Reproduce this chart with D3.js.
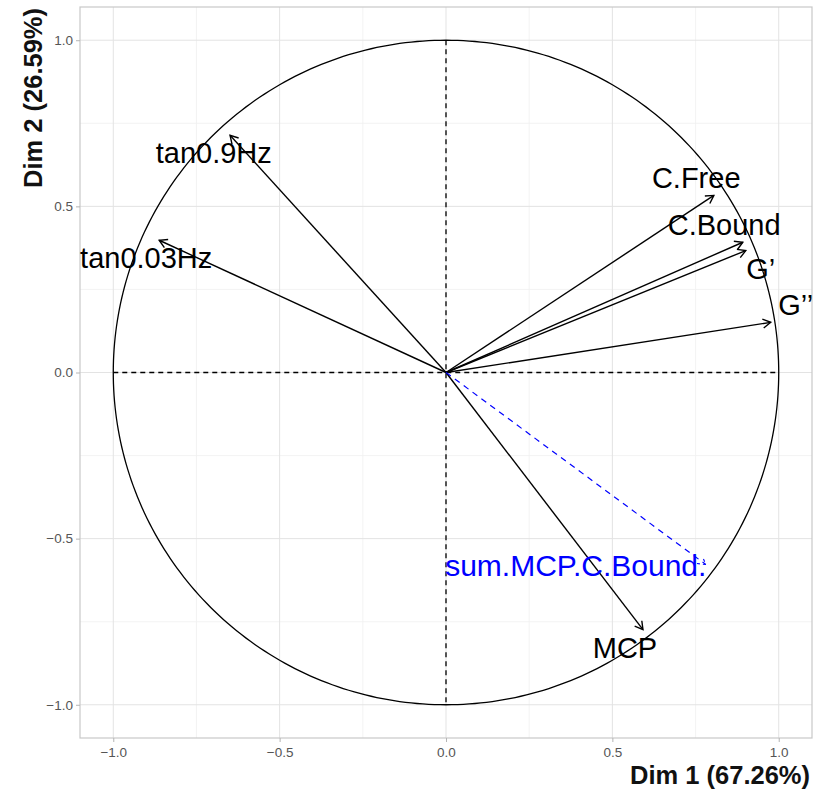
<!DOCTYPE html>
<html>
<head>
<meta charset="utf-8">
<script src="https://cdn.jsdelivr.net/npm/d3@7"></script>
<style>
  html, body { margin: 0; padding: 0; background: #ffffff; }
  svg { display: block; font-family: "Liberation Sans", Arial, sans-serif; }
</style>
</head>
<body>
<svg id="chart" width="827" height="793"></svg>
<script>
// ---- data ----
const variables = ["tan0.9Hz", "tan0.03Hz", "C.Free", "C.Bound", "G\u2019", "G\u2019\u2019", "MCP"];
const dim1 = [-0.649, -0.862, 0.805, 0.892, 0.901, 0.976, 0.592];
const dim2 = [0.714, 0.398, 0.533, 0.392, 0.367, 0.151, -0.774];
const labelDim1 = [-0.698, -0.901, 0.752, 0.836, 0.946, 1.051, 0.538];
const labelDim2 = [0.660, 0.346, 0.587, 0.443, 0.313, 0.205, -0.828];

const supVariables = ["sum.MCP.C.Bound."];
const supDim1 = [0.781];
const supDim2 = [-0.578];
const supLabelDim1 = [0.390];
const supLabelDim2 = [-0.581];

const tickValues = [-1.0, -0.5, 0.0, 0.5, 1.0];
const minorValues = [-0.75, -0.25, 0.25, 0.75];
const xTitle = "Dim 1 (67.26%)";
const yTitle = "Dim 2 (26.59%)";

// ---- layout ----
const svg = d3.select("#chart");
const panel = { left: 80, right: 812, top: 7, bottom: 738 };
const x = d3.scaleLinear().domain([-1.1, 1.1]).range([panel.left, panel.right]);
const y = d3.scaleLinear().domain([-1.1, 1.1]).range([panel.bottom, panel.top]);

// grid
const grid = svg.append("g");
minorValues.forEach(v => {
  grid.append("line").attr("x1", x(v)).attr("x2", x(v)).attr("y1", panel.top).attr("y2", panel.bottom)
    .attr("stroke", "#f0f0f0").attr("stroke-width", 0.8);
  grid.append("line").attr("y1", y(v)).attr("y2", y(v)).attr("x1", panel.left).attr("x2", panel.right)
    .attr("stroke", "#f0f0f0").attr("stroke-width", 0.8);
});
tickValues.forEach(v => {
  grid.append("line").attr("x1", x(v)).attr("x2", x(v)).attr("y1", panel.top).attr("y2", panel.bottom)
    .attr("stroke", "#e3e3e3").attr("stroke-width", 1);
  grid.append("line").attr("y1", y(v)).attr("y2", y(v)).attr("x1", panel.left).attr("x2", panel.right)
    .attr("stroke", "#e3e3e3").attr("stroke-width", 1);
});

// panel border
svg.append("rect").attr("x", panel.left).attr("y", panel.top)
  .attr("width", panel.right - panel.left).attr("height", panel.bottom - panel.top)
  .attr("fill", "none").attr("stroke", "#c8c8c8").attr("stroke-width", 1.2);

// axes
const xAxis = d3.axisBottom(x).tickValues(tickValues).tickFormat(d3.format(".1f")).tickSize(4).tickPadding(3);
const yAxis = d3.axisLeft(y).tickValues(tickValues).tickFormat(d3.format(".1f")).tickSize(4).tickPadding(3);
const gx = svg.append("g").attr("transform", `translate(0,${panel.bottom})`).call(xAxis);
const gy = svg.append("g").attr("transform", `translate(${panel.left},0)`).call(yAxis);
[gx, gy].forEach(g => {
  g.select(".domain").remove();
  g.selectAll(".tick line").attr("stroke", "#b5b5b5").attr("stroke-width", 1);
  g.selectAll(".tick text").attr("fill", "#555555").style("font-size", "13.5px")
    .style("font-family", "'Liberation Sans', Arial, sans-serif");
});
gx.selectAll(".tick text").attr("dy", "0.9em");

// axis titles
svg.append("text").attr("x", panel.right - 2).attr("y", 784)
  .attr("text-anchor", "end").style("font-size", "25.5px").style("font-weight", "bold")
  .attr("fill", "#111").text(xTitle);
svg.append("text").attr("transform", `translate(42,${panel.top + 1}) rotate(-90)`)
  .attr("text-anchor", "end").style("font-size", "25.5px").style("font-weight", "bold")
  .attr("fill", "#111").text(yTitle);

// dashed reference lines
svg.append("line").attr("x1", x(0)).attr("x2", x(0)).attr("y1", y(1)).attr("y2", y(-1))
  .attr("stroke", "#000").attr("stroke-width", 1.3).attr("stroke-dasharray", "5,4");
svg.append("line").attr("x1", x(-1)).attr("x2", x(1)).attr("y1", y(0)).attr("y2", y(0))
  .attr("stroke", "#000").attr("stroke-width", 1.3).attr("stroke-dasharray", "5,4");

// correlation circle
const circlePts = d3.range(0, 361, 1).map(a => [Math.cos(a * Math.PI / 180), Math.sin(a * Math.PI / 180)]);
svg.append("path").datum(circlePts)
  .attr("d", d3.line().x(d => x(d[0])).y(d => y(d[1])))
  .attr("fill", "none").attr("stroke", "#000").attr("stroke-width", 1.3);

// arrows
function arrowHead(x1, y1, x2, y2, len, ang) {
  const t = Math.atan2(y2 - y1, x2 - x1);
  const a1 = t + Math.PI - ang, a2 = t + Math.PI + ang;
  return `M${x2 + len * Math.cos(a1)},${y2 + len * Math.sin(a1)}L${x2},${y2}L${x2 + len * Math.cos(a2)},${y2 + len * Math.sin(a2)}`;
}
const arrows = svg.append("g");
variables.forEach((name, i) => {
  const x1 = x(0), y1 = y(0), x2 = x(dim1[i]), y2 = y(dim2[i]);
  arrows.append("line").attr("x1", x1).attr("y1", y1).attr("x2", x2).attr("y2", y2)
    .attr("stroke", "#000").attr("stroke-width", 1.4);
  arrows.append("path").attr("d", arrowHead(x1, y1, x2, y2, 9, Math.PI / 6))
    .attr("fill", "none").attr("stroke", "#000").attr("stroke-width", 1.4);
});
supVariables.forEach((name, i) => {
  const x1 = x(0), y1 = y(0), x2 = x(supDim1[i]), y2 = y(supDim2[i]);
  arrows.append("line").attr("x1", x1).attr("y1", y1).attr("x2", x2).attr("y2", y2)
    .attr("stroke", "#0000ff").attr("stroke-width", 1.2).attr("stroke-dasharray", "6,5");
  arrows.append("path").attr("d", arrowHead(x1, y1, x2, y2, 9, Math.PI / 6))
    .attr("fill", "none").attr("stroke", "#0000ff").attr("stroke-width", 1.1).attr("stroke-dasharray", "3,3");
});

// labels
const labels = svg.append("g").style("font-size", "29px");
variables.forEach((name, i) => {
  labels.append("text").attr("x", x(labelDim1[i])).attr("y", y(labelDim2[i]))
    .attr("dy", "0.35em").attr("text-anchor", "middle").attr("fill", "#000").text(name);
});
supVariables.forEach((name, i) => {
  labels.append("text").attr("x", x(supLabelDim1[i])).attr("y", y(supLabelDim2[i]))
    .attr("dy", "0.35em").attr("text-anchor", "middle").attr("fill", "#0000ff")
    .style("font-size", "30px").text(name);
});
</script>
</body>
</html>
